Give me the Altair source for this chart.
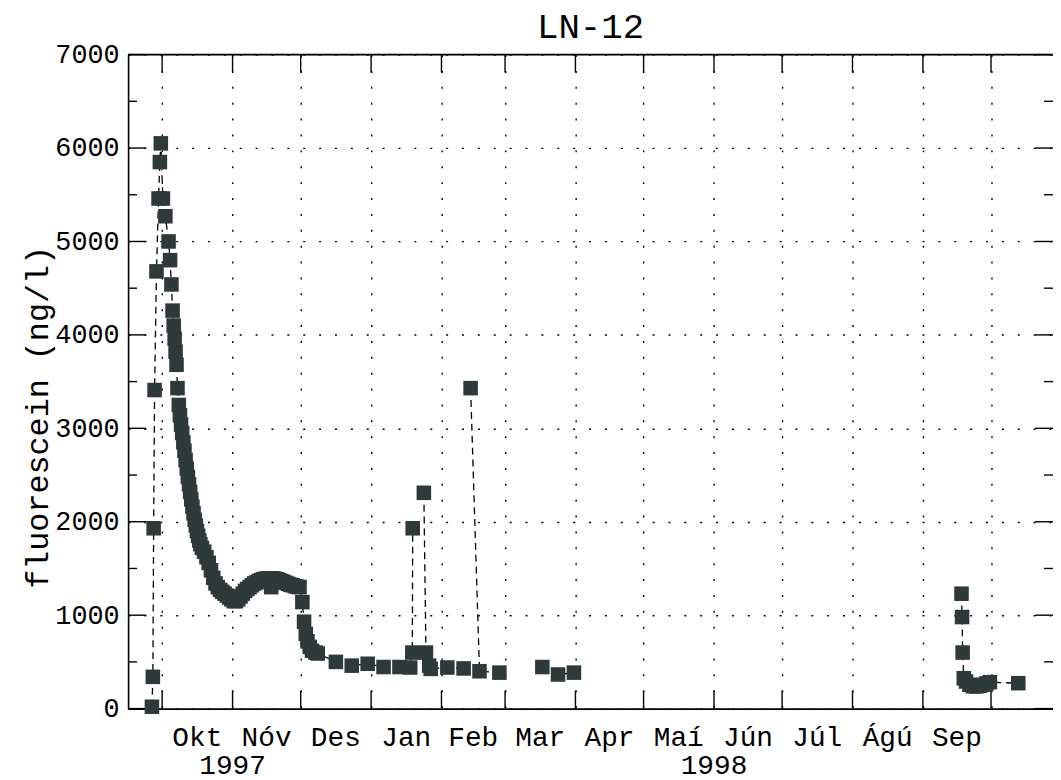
import altair as alt
import pandas as pd

FONT = "Liberation Mono, Courier New, monospace"

# ---- data ----
# segment 1: Sep 1997 - Jan 1998 (main breakthrough curve)
seg1_dates = [
    "1997-09-26T12:00", "1997-09-26T22:00", "1997-09-27T06:00", "1997-09-27T16:00",
    "1997-09-28T12:00", "1997-09-29T10:00", "1997-09-30T00:00", "1997-09-30T10:00",
    "1997-10-01T08:00", "1997-10-02T10:00", "1997-10-03T20:00", "1997-10-04T12:00",
    "1997-10-05T02:00", "1997-10-05T14:00", "1997-10-06T02:00", "1997-10-06T12:00",
    "1997-10-06T22:00", "1997-10-07T08:00", "1997-10-07T18:00", "1997-10-08T08:00",
    "1997-10-08T20:00", "1997-10-09T08:00", "1997-10-09T20:00", "1997-10-10T08:00",
    "1997-10-10T20:00", "1997-10-11T08:00", "1997-10-11T20:00", "1997-10-12T08:00",
    "1997-10-12T20:00", "1997-10-13T08:00", "1997-10-13T20:00", "1997-10-14T08:00",
    "1997-10-14T20:00", "1997-10-15T08:00", "1997-10-15T20:00", "1997-10-16T08:00",
    "1997-10-16T20:00", "1997-10-17T08:00", "1997-10-17T20:00", "1997-10-18T12:00",
    "1997-10-19T12:00", "1997-10-20T12:00", "1997-10-21T12:00", "1997-10-22T12:00",
    "1997-10-23T12:00", "1997-10-24T12:00", "1997-10-25T12:00", "1997-10-26T12:00",
    "1997-10-27T12:00", "1997-10-28T12:00", "1997-10-29T12:00", "1997-10-30T12:00",
    "1997-10-31T12:00", "1997-11-01T12:00", "1997-11-02T12:00", "1997-11-03T12:00",
    "1997-11-04T12:00", "1997-11-05T12:00", "1997-11-06T12:00", "1997-11-07T12:00",
    "1997-11-08T12:00", "1997-11-09T12:00", "1997-11-10T12:00", "1997-11-11T12:00",
    "1997-11-12T12:00", "1997-11-13T12:00", "1997-11-14T12:00", "1997-11-15T12:00",
    "1997-11-16T12:00", "1997-11-18T00:00", "1997-11-18T12:00", "1997-11-19T12:00",
    "1997-11-20T12:00", "1997-11-21T12:00", "1997-11-22T12:00", "1997-11-23T12:00",
    "1997-11-24T12:00", "1997-11-25T12:00", "1997-11-26T12:00", "1997-11-27T12:00",
    "1997-11-28T12:00", "1997-11-29T12:00", "1997-11-30T12:00", "1997-12-01T18:00",
    "1997-12-02T12:00", "1997-12-03T06:00", "1997-12-04T00:00", "1997-12-05T00:00",
    "1997-12-06T00:00", "1997-12-07T12:00", "1997-12-08T12:00", "1997-12-16T12:00",
    "1997-12-23T12:00", "1997-12-30T12:00", "1998-01-06T12:00", "1998-01-13T12:00",
    "1998-01-18T06:00", "1998-01-19T04:00", "1998-01-19T08:00",
]
seg1_vals = [
    20, 340, 1930, 3410,
    4680, 5460, 5850, 6050,
    5460, 5270, 5000, 4800,
    4540, 4260, 4100, 3960,
    3820, 3680, 3430, 3250,
    3140, 3040, 2950, 2850,
    2760, 2660, 2570, 2480,
    2400, 2320, 2240, 2160,
    2090, 2020, 1960, 1900,
    1850, 1800, 1760, 1720,
    1680, 1620, 1560, 1480,
    1400, 1340, 1300, 1270,
    1250, 1230, 1210, 1190,
    1170, 1150, 1150, 1170,
    1200, 1230, 1260, 1280,
    1300, 1320, 1340, 1350,
    1365, 1375, 1385, 1390,
    1395, 1300, 1395, 1390,
    1385, 1375, 1365, 1355,
    1345, 1335, 1325, 1320,
    1310, 1305, 1300, 1140,
    930, 800, 720, 660,
    620, 600, 590, 500,
    460, 480, 445, 445,
    440, 600, 1930,
]
# segment 2: late Jan - Feb 1998
seg2_dates = [
    "1998-01-24T06:00", "1998-01-25T04:00", "1998-01-26T14:00", "1998-01-27T06:00",
    "1998-02-03T14:00", "1998-02-10T18:00",
]
seg2_vals = [2310, 600, 460, 425, 440, 430]
# segment 3: Feb spike and after
seg3_dates = ["1998-02-13T20:00", "1998-02-17T18:00", "1998-02-26T12:00"]
seg3_vals = [3430, 400, 385]
# segment 4: March 1998
seg4_dates = ["1998-03-17T10:00", "1998-03-24T08:00", "1998-03-31T08:00"]
seg4_vals = [445, 365, 385]
# segment 5: September - October 1998
seg5_dates = [
    "1998-09-18T00:00", "1998-09-18T06:00", "1998-09-18T12:00", "1998-09-19T00:00",
    "1998-09-20T00:00", "1998-09-21T12:00", "1998-09-23T00:00", "1998-09-24T12:00",
    "1998-09-26T00:00", "1998-09-27T12:00", "1998-09-29T00:00", "1998-09-30T12:00",
    "1998-10-13T00:00",
]
seg5_vals = [1230, 980, 600, 325, 290, 255, 240, 237, 245, 255, 270, 283, 272]

month_names = ["Okt", "Nóv", "Des", "Jan", "Feb", "Mar", "Apr", "Maí", "Jún", "Júl", "Ágú", "Sep"]
month_mid = [
    "1997-10-16T12:00", "1997-11-16T00:00", "1997-12-16T12:00", "1998-01-16T12:00",
    "1998-02-15T00:00", "1998-03-16T12:00", "1998-04-16T00:00", "1998-05-16T12:00",
    "1998-06-16T00:00", "1998-07-16T12:00", "1998-08-16T12:00", "1998-09-16T00:00",
]
month_starts = [
    (1997, 10), (1997, 11), (1997, 12), (1998, 1), (1998, 2), (1998, 3), (1998, 4),
    (1998, 5), (1998, 6), (1998, 7), (1998, 8), (1998, 9), (1998, 10),
]
year_labels = ["1997", "1998"]
year_pos = ["1997-11-01T00:00", "1998-06-01T00:00"]

y_major = [0, 1000, 2000, 3000, 4000, 5000, 6000, 7000]
y_minor = [500, 1500, 2500, 3500, 4500, 5500, 6500]

# ---- tables ----
rows = []
for sid, (ds, vs) in enumerate([(seg1_dates, seg1_vals), (seg2_dates, seg2_vals),
                                 (seg3_dates, seg3_vals), (seg4_dates, seg4_vals),
                                 (seg5_dates, seg5_vals)]):
    for d, v in zip(ds, vs):
        rows.append({"date": d + ":00", "value": v, "seg": sid})
df = pd.DataFrame(rows)

ms_df = pd.DataFrame({"date": ["%04d-%02d-01T00:00:00" % ym for ym in month_starts]})
mm_df = pd.DataFrame({"date": [d + ":00" for d in month_mid], "label": month_names})
yr_df = pd.DataFrame({"date": [d + ":00" for d in year_pos], "label": year_labels})
ymaj_df = pd.DataFrame({"value": y_major})
ymin_df = pd.DataFrame({"value": y_minor})
one_df = pd.DataFrame({"a": [0]})

W, H = 932, 659
TICK = 18

xscale = alt.Scale(domain=[alt.DateTime(year=1997, month=9, date=16),
                           alt.DateTime(year=1998, month=10, date=28, hours=7)])
yscale = alt.Scale(domain=[0, 7000], nice=False, zero=False)

x_axis = alt.Axis(
    values=[alt.DateTime(year=y, month=m, date=1) for (y, m) in month_starts],
    labels=False, ticks=False, title=None,
    grid=True, gridDash=[2, 14], gridColor="black", gridWidth=1.4, gridOpacity=1,
    domain=True, domainColor="black", domainWidth=1.6,
)
y_axis = alt.Axis(
    values=y_major, format="d", title="fluorescein (ng/l)",
    labelFont=FONT, labelFontSize=27, labelColor="black", labelPadding=9,
    ticks=False, tickSize=0,
    grid=True, gridDash=[2, 14], gridColor="black", gridWidth=1.4, gridOpacity=1,
    domain=True, domainColor="black", domainWidth=1.6,
    titleFont=FONT, titleFontSize=32, titleFontWeight="normal", titleColor="black",
    titleAngle=270, titleX=-91, titleY=365, titleAlign="center", titleBaseline="middle",
)

X = alt.X("date:T", scale=xscale, axis=x_axis)
Y = alt.Y("value:Q", scale=yscale, axis=y_axis)

base = alt.Chart(df)
line = base.mark_line(color="black", strokeWidth=1.3, strokeDash=[7, 5]).encode(
    x=X, y=Y, detail="seg:N", order="date:T",
)
pts = base.mark_point(shape="square", filled=True, size=215, color="#2e3a3a", opacity=1).encode(
    x=X, y=Y,
)

tick_bot = alt.Chart(ms_df).mark_rule(color="black", strokeWidth=1.4).encode(
    x=X, y=alt.value(H - TICK), y2=alt.value(H))
tick_top = alt.Chart(ms_df).mark_rule(color="black", strokeWidth=1.4).encode(
    x=X, y=alt.value(0), y2=alt.value(TICK))
ytick_l_maj = alt.Chart(ymaj_df).mark_rule(color="black", strokeWidth=1.4).encode(
    y=Y, x=alt.value(0), x2=alt.value(TICK))
ytick_l_min = alt.Chart(ymin_df).mark_rule(color="black", strokeWidth=1.4).encode(
    y=Y, x=alt.value(0), x2=alt.value(TICK / 2))
ytick_r_maj = alt.Chart(ymaj_df).mark_rule(color="black", strokeWidth=1.4).encode(
    y=Y, x=alt.value(W - TICK), x2=alt.value(W))
ytick_r_min = alt.Chart(ymin_df).mark_rule(color="black", strokeWidth=1.4).encode(
    y=Y, x=alt.value(W - TICK / 2), x2=alt.value(W))
top_frame = alt.Chart(one_df).mark_rule(color="black", strokeWidth=1.6).encode(
    x=alt.value(0), x2=alt.value(W), y=alt.value(0))

month_text = alt.Chart(mm_df).mark_text(
    font=FONT, fontSize=28, color="black", baseline="alphabetic", align="center", dy=38
).encode(x=X, y=alt.value(H), text="label:N")
year_text = alt.Chart(yr_df).mark_text(
    font=FONT, fontSize=28, color="black", baseline="alphabetic", align="center", dy=66
).encode(x=X, y=alt.value(H), text="label:N")

chart = alt.layer(
    line, tick_bot, tick_top, ytick_l_maj, ytick_l_min, ytick_r_maj, ytick_r_min,
    top_frame, pts, month_text, year_text,
).properties(
    width=W, height=H,
    title=alt.TitleParams("LN-12", font=FONT, fontSize=36, fontWeight="normal",
                          color="black", anchor="middle", offset=-5),
    padding={"left": 121, "top": 44, "right": 0, "bottom": 72},
    autosize=alt.AutoSizeParams(type="none"),
).configure_view(stroke=None).configure(background="white")

chart.save("out.html", embed_options={"renderer": "svg", "actions": False})
